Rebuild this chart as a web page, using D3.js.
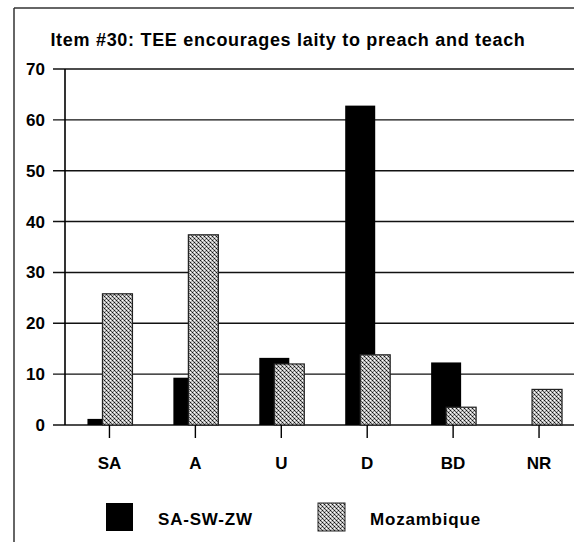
<!DOCTYPE html>
<html>
<head>
<meta charset="utf-8">
<script src="https://cdn.jsdelivr.net/npm/d3@7"></script>
<style>
  body { margin: 0; background: #fff; }
  text { font-family: "Liberation Sans", Arial, sans-serif; font-weight: bold; fill: #000; }
</style>
</head>
<body>
<div id="chart"></div>
<script>
// chart data
const categories = ["SA", "A", "U", "D", "BD", "NR"];
const seriesNames = ["SA-SW-ZW", "Mozambique"];
const sasw = [1.2, 9.3, 13.2, 62.8, 12.3, 0];
const mozambique = [25.8, 37.4, 12, 13.8, 3.5, 7];
const yTicks = [0, 10, 20, 30, 40, 50, 60, 70];
const title = "Item #30: TEE encourages laity to preach and teach";

const width = 574, height = 542;
const svg = d3.select("#chart").append("svg")
  .attr("width", width)
  .attr("height", height);

// dithered fill used for the Mozambique bars
const defs = svg.append("defs");
const pat = defs.append("pattern")
  .attr("id", "dither")
  .attr("patternUnits", "userSpaceOnUse")
  .attr("width", 4).attr("height", 4);
pat.append("rect").attr("width", 4).attr("height", 4).attr("fill", "#bdbdbd");
[[0, 0, "#111"], [2, 2, "#111"], [1, 1, "#555"], [3, 3, "#555"], [2, 0, "#fff"], [0, 2, "#eee"], [1, 3, "#888"]]
  .forEach(p => pat.append("rect")
    .attr("x", p[0]).attr("y", p[1])
    .attr("width", 1).attr("height", 1)
    .attr("fill", p[2]));

// outer frame (only left and top show in the scan)
svg.append("line").attr("x1", 14).attr("y1", 8).attr("x2", 14).attr("y2", height)
  .attr("stroke", "#333").attr("stroke-width", 1.5);
svg.append("line").attr("x1", 14).attr("y1", 8).attr("x2", width).attr("y2", 8)
  .attr("stroke", "#333").attr("stroke-width", 1.5);

svg.append("text")
  .attr("x", 288).attr("y", 46)
  .attr("text-anchor", "middle")
  .style("font-size", "18px")
  .style("letter-spacing", "0.7px")
  .text(title);

const x = d3.scaleBand().domain(categories).range([66.5, 582]).paddingInner(0);
const y = d3.scaleLinear().domain([0, 70]).range([425, 69]);

const plotLeft = 65;

// gridlines
svg.append("g")
  .selectAll("line")
  .data(yTicks)
  .join("line")
  .attr("x1", 53).attr("x2", width)
  .attr("y1", d => y(d)).attr("y2", d => y(d))
  .attr("stroke", "#111").attr("stroke-width", 1.4);

// y axis labels
svg.append("g")
  .selectAll("text")
  .data(yTicks)
  .join("text")
  .attr("x", 45).attr("y", d => y(d) + 6)
  .attr("text-anchor", "end")
  .style("font-size", "17px")
  .text(d => d);

// y axis line
svg.append("line")
  .attr("x1", plotLeft).attr("x2", plotLeft)
  .attr("y1", y(70)).attr("y2", y(0))
  .attr("stroke", "#000").attr("stroke-width", 1.6);

// overlapping bars: black behind, dithered in front
const barW = 30;
const offset = { "SA-SW-ZW": -22, "Mozambique": -7 };
const cx = c => x(c) + x.bandwidth() / 2;

svg.append("g")
  .selectAll("rect")
  .data(categories.map((c, i) => ({ c, v: sasw[i] })))
  .join("rect")
  .attr("x", d => cx(d.c) + offset["SA-SW-ZW"])
  .attr("y", d => y(d.v))
  .attr("width", barW)
  .attr("height", d => y(0) - y(d.v))
  .attr("fill", "#000");

svg.append("g")
  .selectAll("rect")
  .data(categories.map((c, i) => ({ c, v: mozambique[i] })))
  .join("rect")
  .attr("x", d => cx(d.c) + offset["Mozambique"])
  .attr("y", d => y(d.v))
  .attr("width", barW)
  .attr("height", d => y(0) - y(d.v))
  .attr("fill", "url(#dither)")
  .attr("stroke", "#222").attr("stroke-width", 1.2);

// x axis ticks and labels
const xa = svg.append("g");
xa.selectAll("line")
  .data(categories)
  .join("line")
  .attr("x1", d => cx(d)).attr("x2", d => cx(d))
  .attr("y1", y(0)).attr("y2", y(0) + 13)
  .attr("stroke", "#000").attr("stroke-width", 1.4);
xa.selectAll("text")
  .data(categories)
  .join("text")
  .attr("x", d => cx(d)).attr("y", 469)
  .attr("text-anchor", "middle")
  .style("font-size", "17px")
  .text(d => d);

// legend
const legend = svg.append("g");
const legendX = [106, 318];
legend.selectAll("rect")
  .data(seriesNames)
  .join("rect")
  .attr("x", (d, i) => legendX[i])
  .attr("y", 503)
  .attr("width", 27).attr("height", 28)
  .attr("fill", (d, i) => i === 0 ? "#000" : "url(#dither)")
  .attr("stroke", (d, i) => i === 0 ? "none" : "#222");
legend.selectAll("text")
  .data(seriesNames)
  .join("text")
  .attr("x", (d, i) => legendX[i] + 52)
  .attr("y", 525)
  .style("font-size", "17px")
  .style("letter-spacing", "0.8px")
  .text(d => d);
</script>
</body>
</html>
